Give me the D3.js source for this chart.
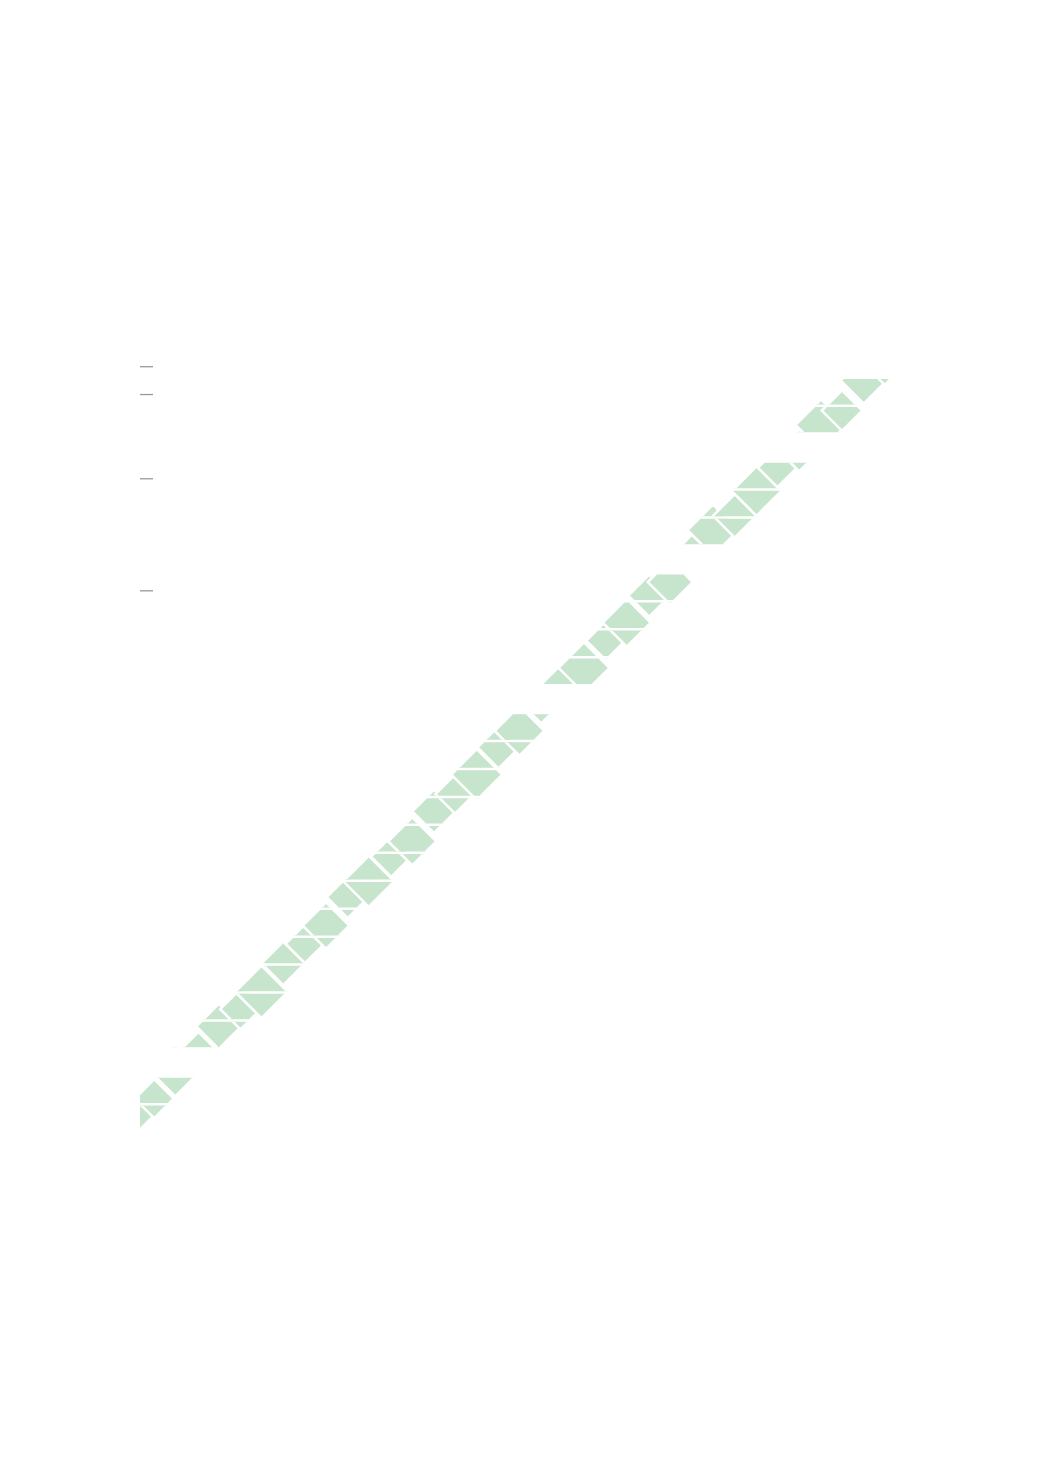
<!DOCTYPE html>
<html>
<head>
<meta charset="utf-8">
<script src="https://cdn.jsdelivr.net/npm/d3@7"></script>
<style>
  body { margin: 0; background: #fff; }
  svg { display: block; }
</style>
</head>
<body>
<div id="vis"></div>
<script>
// point positions (data units)
const xs = [-1.0, 1.9, 4.7, 7.8, 10.5, 13.4, 16.2, 19.1, 22.0, 24.8, 27.7, 30.5, 33.5, 36.3, 39.2, 42.0,
  44.9, 47.8, 50.6, 53.5, 56.4, 59.2, 62.1, 64.9, 67.9, 70.7, 73.6, 76.4, 79.3, 82.2, 85.0, 87.9,
  90.8, 93.6, 96.5, 99.3];
const ys = [2.1, 4.3, 8.0, 10.4, 13.9, 16.2, 18.5, 22.3, 24.9, 27.3, 31.1, 33.2, 36.5, 38.5, 42.5, 44.8,
  47.4, 51.0, 53.2, 56.9, 59.3, 61.6, 65.2, 67.6, 71.2, 73.0, 76.6, 79.9, 81.8, 85.1, 88.2, 90.5,
  93.9, 95.8, 99.8, 102.1];
// half diagonal of each diamond, in x units
const sizes = [2.9, 2.6, 3.4, 2.8, 3.0, 2.7, 3.5, 2.9, 2.6, 3.1, 2.8, 3.4, 2.7, 3.2, 2.9, 2.6,
  3.4, 2.8, 3.3, 2.7, 3.0, 3.4, 2.6, 3.2, 2.8, 3.0, 2.7, 3.4, 2.9, 3.3, 2.6, 2.8,
  3.4, 2.7, 3.1, 2.9];

// horizontal rows the marks are drawn in, and the rows left empty
const rowCount = 27;
const emptyRows = [2, 6, 11, 24];

// the few unlabelled ticks on the left
const yTicks = [101.7, 98.0, 86.8, 71.9];

const W = 1040, H = 1471;
const L = 140, R = 890, T = 379, B = 1131;

let svg = d3.select('#vis').append('svg').attr('width', W).attr('height', H);

let xScale = d3.scaleLinear().domain([0, 100]).range([L, R]);
let yScale = d3.scaleLinear().domain([0, 100]).range([B, T]);
let rowScale = d3.scaleBand().domain(d3.range(rowCount)).range([T, B]).paddingInner(0.09);

// clip: one rect per visible row
let clip = svg.append('defs').append('clipPath').attr('id', 'rows');
clip.selectAll('rect')
    .data(d3.range(rowCount).filter(r => !emptyRows.includes(r)))
    .enter().append('rect')
    .attr('x', L)
    .attr('width', R - L)
    .attr('y', r => rowScale(r))
    .attr('height', rowScale.bandwidth());

let points = xs.map((x, i) => ({x: x, y: ys[i], s: sizes[i]}));

function diamond(d) {
  let cx = xScale(d.x), cy = yScale(d.y);
  let h = xScale(d.s) - xScale(0);
  return `M${cx},${cy - h}L${cx + h},${cy}L${cx},${cy + h}L${cx - h},${cy}Z`;
}

svg.append('g').attr('clip-path', 'url(#rows)')
    .selectAll('path').data(points).enter().append('path')
    .attr('d', diamond)
    .attr('fill', '#c7e5cd')
    .attr('stroke', '#fff')
    .attr('stroke-width', 2.5);

// left ticks, no labels and no domain line
svg.append('g')
    .attr('transform', `translate(${L + 13},0)`)
    .call(d3.axisLeft(yScale).tickValues(yTicks).tickSize(13).tickFormat(''))
    .call(g => g.select('.domain').remove())
    .call(g => g.selectAll('line').attr('stroke', '#999').attr('stroke-width', 1.3));
</script>
</body>
</html>
